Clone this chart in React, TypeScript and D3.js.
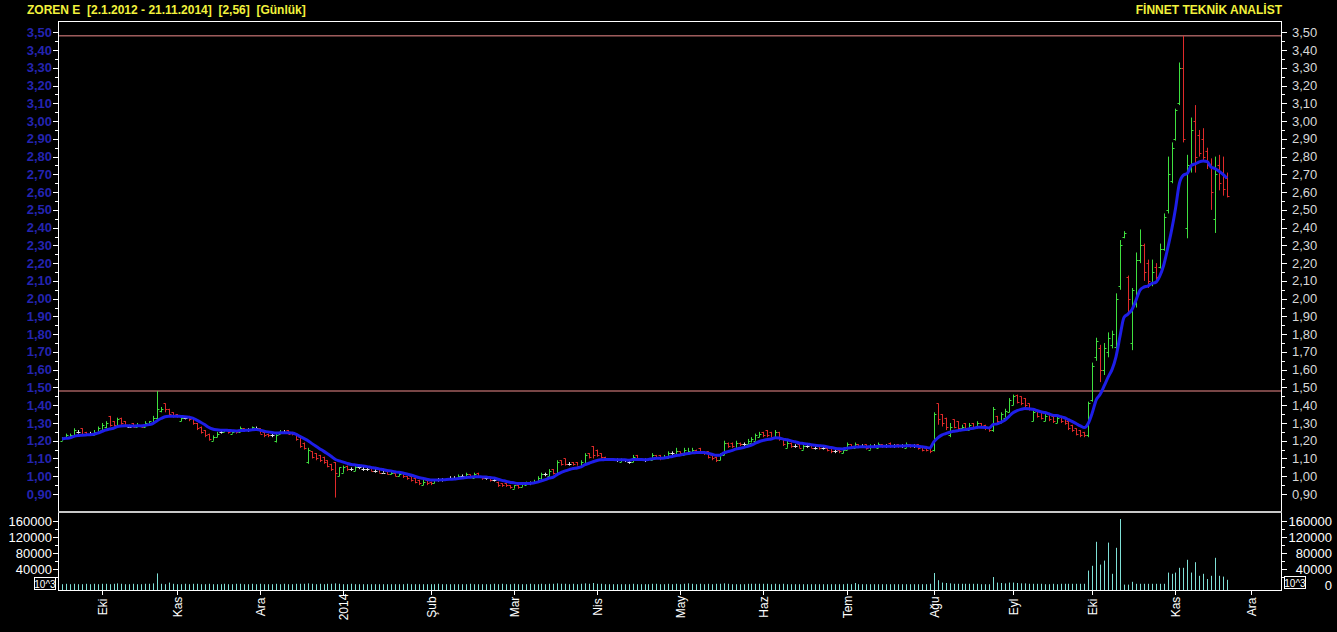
import React from 'react';
import * as d3 from 'd3';

const TITLE = 'ZOREN E  [2.1.2012 - 21.11.2014]  [2,56]  [Günlük]';
const BRAND = 'FİNNET TEKNİK ANALİST';

const OPEN = [
  1.20,1.22,1.22,1.23,1.25,1.27,1.25,1.24,1.23,1.25,
  1.26,1.28,1.34,1.31,1.28,1.33,1.31,1.28,1.30,1.28,
  1.29,1.28,1.29,1.30,1.33,1.37,1.41,1.38,1.36,1.35,
  1.31,1.33,1.34,1.33,1.30,1.28,1.26,1.24,1.20,1.22,
  1.25,1.25,1.26,1.24,1.26,1.25,1.27,1.26,1.26,1.27,
  1.27,1.25,1.24,1.23,1.20,1.24,1.25,1.26,1.25,1.24,
  1.22,1.19,1.08,1.14,1.13,1.12,1.11,1.09,1.07,1.08,
  1.00,1.02,1.06,1.04,1.03,1.05,1.04,1.04,1.05,1.03,
  1.04,1.02,1.03,1.01,1.02,1.00,1.02,1.00,1.00,0.99,
  0.98,0.95,0.98,0.97,0.96,0.98,0.98,0.98,0.99,0.99,
  0.99,1.00,0.99,1.01,0.99,1.02,1.00,0.99,0.99,0.98,
  0.97,0.96,0.96,0.95,0.93,0.95,0.94,0.95,0.96,0.96,
  0.97,0.98,1.01,1.00,1.04,1.01,1.09,1.10,1.07,1.08,
  1.08,1.05,1.07,1.13,1.17,1.15,1.13,1.11,1.10,1.10,
  1.09,1.08,1.09,1.08,1.08,1.12,1.10,1.09,1.09,1.09,
  1.12,1.12,1.10,1.10,1.13,1.12,1.14,1.12,1.13,1.13,
  1.15,1.16,1.14,1.14,1.12,1.11,1.09,1.12,1.19,1.19,
  1.16,1.19,1.18,1.18,1.19,1.20,1.22,1.25,1.26,1.25,
  1.22,1.25,1.21,1.16,1.19,1.17,1.18,1.15,1.17,1.18,
  1.16,1.17,1.16,1.16,1.16,1.14,1.15,1.13,1.15,1.18,
  1.16,1.18,1.17,1.18,1.15,1.17,1.16,1.18,1.17,1.19,
  1.17,1.18,1.17,1.16,1.18,1.17,1.18,1.17,1.16,1.16,
  1.15,1.41,1.35,1.33,1.23,1.32,1.31,1.27,1.30,1.26,
  1.30,1.27,1.30,1.29,1.27,1.26,1.34,1.30,1.33,1.36,
  1.40,1.46,1.45,1.44,1.41,1.31,1.37,1.36,1.31,1.35,
  1.34,1.30,1.34,1.33,1.31,1.29,1.27,1.26,1.25,1.23,
  1.43,1.67,1.72,1.60,1.70,1.74,1.73,2.07,2.35,2.12,
  1.75,1.97,2.22,2.30,2.20,2.08,2.18,2.18,2.28,2.50,
  2.66,2.90,3.10,3.30,2.40,2.75,3.00,2.92,2.90,2.83,
  2.75,2.45,2.75,2.70,2.68,
];

const HIGH = [
  1.22,1.24,1.24,1.27,1.26,1.27,1.25,1.25,1.26,1.28,
  1.30,1.31,1.34,1.31,1.33,1.33,1.31,1.29,1.30,1.30,
  1.29,1.31,1.31,1.34,1.48,1.39,1.41,1.38,1.36,1.35,
  1.34,1.33,1.34,1.33,1.30,1.28,1.26,1.24,1.23,1.25,
  1.26,1.26,1.26,1.26,1.26,1.28,1.27,1.27,1.28,1.28,
  1.27,1.25,1.24,1.24,1.24,1.26,1.26,1.26,1.25,1.24,
  1.22,1.19,1.16,1.14,1.13,1.12,1.11,1.09,1.07,1.08,
  1.05,1.06,1.06,1.05,1.06,1.05,1.06,1.05,1.05,1.04,
  1.04,1.03,1.03,1.03,1.02,1.02,1.02,1.00,1.00,0.99,
  0.98,0.98,0.98,0.97,0.98,0.99,0.99,0.99,1.00,1.00,
  1.01,1.01,1.02,1.01,1.02,1.02,1.00,1.00,0.99,0.99,
  0.97,0.96,0.96,0.95,0.95,0.95,0.96,0.97,0.97,0.98,
  1.00,1.02,1.02,1.04,1.04,1.09,1.09,1.10,1.08,1.08,
  1.08,1.09,1.13,1.13,1.17,1.15,1.13,1.11,1.10,1.10,
  1.10,1.10,1.09,1.09,1.12,1.12,1.10,1.10,1.10,1.13,
  1.12,1.12,1.12,1.14,1.14,1.16,1.14,1.16,1.16,1.16,
  1.15,1.16,1.14,1.14,1.12,1.11,1.13,1.20,1.19,1.19,
  1.20,1.19,1.19,1.21,1.22,1.24,1.25,1.25,1.26,1.25,
  1.26,1.25,1.21,1.20,1.19,1.18,1.18,1.18,1.18,1.18,
  1.17,1.17,1.17,1.16,1.16,1.15,1.15,1.16,1.19,1.18,
  1.19,1.18,1.18,1.18,1.18,1.18,1.19,1.18,1.18,1.19,
  1.18,1.18,1.18,1.19,1.18,1.18,1.18,1.17,1.16,1.16,
  1.36,1.41,1.35,1.33,1.30,1.32,1.31,1.29,1.30,1.30,
  1.30,1.31,1.30,1.29,1.27,1.39,1.34,1.36,1.38,1.44,
  1.46,1.46,1.45,1.44,1.41,1.37,1.37,1.36,1.35,1.35,
  1.34,1.34,1.34,1.33,1.31,1.29,1.27,1.26,1.25,1.42,
  1.64,1.78,1.74,1.75,1.81,1.82,2.03,2.33,2.38,2.13,
  2.06,2.26,2.39,2.31,2.22,2.22,2.20,2.31,2.48,2.80,
  2.88,3.07,3.33,3.48,2.81,3.02,3.09,2.95,2.96,2.85,
  2.79,2.80,2.81,2.80,2.71,
];

const LOW = [
  1.20,1.22,1.22,1.23,1.24,1.23,1.23,1.23,1.23,1.25,
  1.25,1.27,1.28,1.28,1.28,1.29,1.29,1.28,1.28,1.28,
  1.28,1.28,1.29,1.30,1.32,1.36,1.36,1.34,1.33,1.33,
  1.31,1.32,1.31,1.29,1.26,1.24,1.22,1.20,1.20,1.22,
  1.24,1.25,1.24,1.24,1.24,1.25,1.25,1.25,1.26,1.26,
  1.24,1.22,1.22,1.22,1.19,1.24,1.24,1.24,1.23,1.20,
  1.16,1.15,1.07,1.10,1.09,1.08,1.07,1.05,1.03,0.88,
  1.00,1.02,1.03,1.03,1.03,1.04,1.03,1.03,1.03,1.02,
  1.02,1.02,1.01,1.01,1.00,1.00,0.99,0.98,0.97,0.96,
  0.95,0.95,0.95,0.95,0.96,0.97,0.97,0.98,0.98,0.98,
  0.99,0.99,0.99,1.00,0.99,0.99,0.98,0.98,0.97,0.97,
  0.94,0.94,0.94,0.93,0.93,0.93,0.94,0.95,0.95,0.96,
  0.97,0.98,1.00,1.00,1.01,1.01,1.06,1.06,1.06,1.06,
  1.06,1.05,1.07,1.10,1.10,1.11,1.10,1.09,1.09,1.09,
  1.08,1.08,1.08,1.07,1.08,1.09,1.09,1.08,1.09,1.09,
  1.10,1.09,1.10,1.10,1.12,1.12,1.12,1.12,1.13,1.13,
  1.13,1.13,1.12,1.10,1.09,1.08,1.09,1.12,1.16,1.16,
  1.16,1.17,1.17,1.18,1.19,1.20,1.22,1.22,1.22,1.22,
  1.22,1.20,1.17,1.16,1.16,1.16,1.16,1.15,1.16,1.16,
  1.15,1.15,1.15,1.14,1.13,1.13,1.13,1.13,1.15,1.16,
  1.16,1.16,1.16,1.15,1.15,1.16,1.16,1.16,1.16,1.16,
  1.16,1.16,1.16,1.16,1.16,1.16,1.15,1.14,1.14,1.13,
  1.14,1.29,1.28,1.26,1.22,1.27,1.26,1.26,1.26,1.26,
  1.27,1.27,1.27,1.26,1.25,1.25,1.30,1.30,1.33,1.36,
  1.40,1.41,1.40,1.39,1.37,1.31,1.33,1.32,1.31,1.31,
  1.30,1.30,1.30,1.29,1.26,1.25,1.23,1.22,1.22,1.22,
  1.42,1.65,1.53,1.57,1.67,1.72,1.71,2.05,2.34,1.92,
  1.71,1.95,2.20,2.10,2.06,2.07,2.10,2.17,2.27,2.48,
  2.65,2.89,3.09,2.88,2.34,2.71,2.71,2.80,2.77,2.73,
  2.50,2.37,2.61,2.58,2.57,
];

const CLOSE = [
  1.21,1.23,1.23,1.26,1.25,1.24,1.24,1.24,1.25,1.27,
  1.29,1.30,1.29,1.29,1.32,1.30,1.29,1.28,1.28,1.29,
  1.28,1.30,1.31,1.33,1.38,1.38,1.38,1.35,1.34,1.34,
  1.33,1.33,1.32,1.30,1.27,1.25,1.23,1.21,1.22,1.24,
  1.25,1.26,1.25,1.25,1.25,1.27,1.26,1.26,1.28,1.27,
  1.24,1.23,1.23,1.23,1.23,1.25,1.25,1.24,1.24,1.21,
  1.17,1.16,1.15,1.11,1.10,1.09,1.08,1.06,1.04,1.02,
  1.05,1.05,1.04,1.04,1.05,1.05,1.04,1.04,1.03,1.03,
  1.02,1.02,1.01,1.02,1.00,1.01,1.00,0.99,0.98,0.97,
  0.96,0.97,0.96,0.96,0.98,0.98,0.98,0.99,0.99,0.99,
  1.00,1.00,1.01,1.00,1.01,1.00,0.99,0.99,0.98,0.98,
  0.95,0.95,0.95,0.94,0.95,0.94,0.96,0.96,0.96,0.97,
  0.99,1.01,1.01,1.03,1.02,1.08,1.07,1.07,1.07,1.07,
  1.06,1.08,1.12,1.11,1.12,1.12,1.11,1.10,1.10,1.09,
  1.09,1.09,1.09,1.08,1.11,1.10,1.09,1.09,1.10,1.12,
  1.11,1.10,1.11,1.13,1.13,1.14,1.13,1.15,1.14,1.15,
  1.14,1.14,1.13,1.11,1.10,1.09,1.12,1.19,1.17,1.17,
  1.19,1.18,1.18,1.20,1.21,1.23,1.24,1.23,1.23,1.22,
  1.25,1.21,1.18,1.19,1.17,1.17,1.16,1.17,1.17,1.16,
  1.16,1.16,1.16,1.15,1.14,1.14,1.14,1.15,1.18,1.17,
  1.18,1.17,1.17,1.16,1.17,1.17,1.18,1.17,1.17,1.17,
  1.17,1.17,1.17,1.18,1.17,1.17,1.16,1.15,1.15,1.14,
  1.35,1.32,1.30,1.28,1.28,1.28,1.27,1.28,1.27,1.29,
  1.28,1.30,1.28,1.27,1.26,1.38,1.31,1.35,1.37,1.43,
  1.45,1.42,1.41,1.40,1.38,1.36,1.34,1.33,1.34,1.32,
  1.31,1.33,1.31,1.30,1.27,1.26,1.24,1.23,1.23,1.41,
  1.62,1.76,1.60,1.72,1.78,1.80,2.00,2.30,2.37,2.00,
  2.05,2.22,2.30,2.15,2.10,2.15,2.12,2.28,2.46,2.70,
  2.85,3.06,3.30,2.90,2.75,2.95,2.80,2.82,2.80,2.75,
  2.60,2.70,2.65,2.62,2.58,
];

// volume, in thousands (10^3)
const VOLUME_K = [
  2,3,2,3,2,2,3,2,3,2,
  3,3,2,3,4,3,2,2,3,2,
  2,3,3,4,29,3,2,6,3,2,
  2,3,2,3,3,2,2,3,2,2,
  2,3,2,2,3,3,2,2,3,2,
  3,2,2,2,3,2,3,2,2,3,
  3,3,4,3,2,3,2,3,3,4,
  3,2,2,3,2,2,2,2,2,2,
  2,2,2,2,2,2,2,3,2,2,
  2,2,2,2,2,3,2,2,2,2,
  2,2,2,3,2,2,2,2,2,3,
  2,3,2,2,3,2,2,2,3,2,
  2,3,2,3,3,4,3,3,2,3,
  2,3,4,3,5,3,3,2,2,2,
  2,2,2,2,3,2,2,2,2,3,
  3,2,2,3,2,3,2,3,4,3,
  2,3,2,3,2,3,3,4,3,2,
  2,2,2,3,3,3,3,3,3,2,
  3,2,3,2,2,2,2,2,2,2,
  2,2,2,2,2,2,2,2,3,2,
  5,2,2,2,2,2,2,2,2,2,
  2,2,2,2,2,2,2,2,2,3,
  30,12,6,5,4,3,3,3,3,3,
  3,3,2,2,2,20,6,5,4,6,
  6,5,4,4,3,3,3,3,2,2,
  3,2,3,3,3,3,3,3,3,36,
  48,108,51,61,106,28,93,165,1,1,
  8,3,3,3,3,3,3,3,3,31,
  28,31,43,43,63,31,57,23,28,15,
  23,68,23,21,13,
];

const MONTH_LABELS = ['Eki', 'Kas', 'Ara', '2014', 'Şub', 'Mar', 'Nis', 'May', 'Haz', 'Tem', 'Ağu', 'Eyl', 'Eki', 'Kas', 'Ara'];
const MONTH_BAR_INDEX = [10, 29, 50, 71, 93, 114, 135, 156, 177, 198, 220, 240, 260, 281, 300];

const PRICE_TICKS = [0.9, 1.0, 1.1, 1.2, 1.3, 1.4, 1.5, 1.6, 1.7, 1.8, 1.9, 2.0, 2.1, 2.2, 2.3, 2.4, 2.5, 2.6, 2.7, 2.8, 2.9, 3.0, 3.1, 3.2, 3.3, 3.4, 3.5];
const LEVEL_LINES = [3.48, 1.48];
const VOL_TICKS = [0, 40000, 80000, 120000, 160000];
const EMA_PERIOD = 10;

const FONT = "'Liberation Sans', Arial, sans-serif";

function ema(values: number[], period: number): number[] {
  const k = 2 / (period + 1);
  const out: number[] = [];
  values.forEach((v, i) => {
    out.push(i === 0 ? v : out[i - 1] + k * (v - out[i - 1]));
  });
  return out;
}

export default function App() {
  const W = 1337, H = 632;
  const L = 58, R = 1282, T = 21, SEP = 512, B = 590;
  const n = CLOSE.length;

  const x = d3.scaleLinear().domain([0, n - 1]).range([62, 1227]);
  const y = d3.scaleLinear().domain([0.9, 3.5]).range([494, 32.3]);
  const yv = d3.scaleLinear().domain([0, 160000]).range([585, 521]);

  const ma = ema(CLOSE, EMA_PERIOD);
  const maLine = d3.line<number>().x((_, i) => x(i)).y(d => y(d)).curve(d3.curveMonotoneX);

  const fmt = (v: number) => d3.format('.2f')(v).replace('.', ',');
  const minor = d3.range(0.95, 3.5, 0.1);
  const volMinor = [20000, 60000, 100000, 140000];

  const barColor = (i: number) =>
    CLOSE[i] > OPEN[i] ? '#3fe03f' : CLOSE[i] < OPEN[i] ? '#e02a2a' : '#e8e8e8';

  return (
    <div style={{ position: 'fixed', left: 0, top: 0, width: W, height: H, background: '#000' }}>
      <svg width={W} height={H} style={{ display: 'block', background: '#000', fontFamily: FONT }}>
        <text x={27} y={14} fill="#f2f23c" fontSize={12} fontWeight="bold" style={{ whiteSpace: 'pre' }}>{TITLE}</text>
        <text x={R} y={14} fill="#f2f23c" fontSize={12} fontWeight="bold" textAnchor="end">{BRAND}</text>

        <defs>
          <clipPath id="priceClip"><rect x={L} y={T} width={R - L} height={SEP - T} /></clipPath>
        </defs>

        {LEVEL_LINES.map((v, k) => (
          <line key={'lv' + k} x1={L} x2={R} y1={y(v)} y2={y(v)} stroke="#f08c8c" strokeWidth={1} />
        ))}

        <g clipPath="url(#priceClip)">
          {CLOSE.map((c, i) => {
            const xi = Math.round(x(i)) + 0.5;
            const col = barColor(i);
            return (
              <g key={'b' + i} stroke={col} strokeWidth={1}>
                <line x1={xi} x2={xi} y1={y(HIGH[i])} y2={y(LOW[i])} />
                <line x1={xi - 2} x2={xi} y1={Math.round(y(OPEN[i])) + 0.5} y2={Math.round(y(OPEN[i])) + 0.5} />
                <line x1={xi} x2={xi + 2} y1={Math.round(y(c)) + 0.5} y2={Math.round(y(c)) + 0.5} />
              </g>
            );
          })}
          <path d={maLine(ma) || ''} fill="none" stroke="#1e1ee8" strokeWidth={3} strokeLinejoin="round" />
        </g>

        {VOLUME_K.map((v, i) => {
          const xi = Math.round(x(i)) + 0.5;
          return <line key={'v' + i} x1={xi} x2={xi} y1={B} y2={yv(v * 1000)} stroke="#7fe0d6" strokeWidth={1} />;
        })}

        <rect x={L + 0.5} y={T + 0.5} width={R - L - 1} height={B - T} fill="none" stroke="#ffffff" strokeWidth={1} />
        <line x1={L} x2={R} y1={SEP} y2={SEP} stroke="#c8c8c8" strokeWidth={2} />

        {PRICE_TICKS.map((v, k) => (
          <g key={'pt' + k}>
            <line x1={L - 5} x2={L} y1={Math.round(y(v)) + 0.5} y2={Math.round(y(v)) + 0.5} stroke="#ffffff" />
            <line x1={R} x2={R + 5} y1={Math.round(y(v)) + 0.5} y2={Math.round(y(v)) + 0.5} stroke="#ffffff" />
            <text x={L - 6} y={y(v)} dy="0.35em" textAnchor="end" fill="#2424b0" fontSize={13} fontWeight="bold">{fmt(v)}</text>
            <text x={R + 10} y={y(v)} dy="0.35em" textAnchor="start" fill="#d8d8d8" fontSize={13}>{fmt(v)}</text>
          </g>
        ))}
        {minor.map((v, k) => (
          <g key={'pm' + k}>
            <line x1={L - 3} x2={L} y1={Math.round(y(v)) + 0.5} y2={Math.round(y(v)) + 0.5} stroke="#ffffff" />
            <line x1={R} x2={R + 3} y1={Math.round(y(v)) + 0.5} y2={Math.round(y(v)) + 0.5} stroke="#ffffff" />
          </g>
        ))}

        {VOL_TICKS.map((v, k) => (
          <g key={'vt' + k}>
            {v > 0 && <line x1={L - 5} x2={L} y1={Math.round(yv(v)) + 0.5} y2={Math.round(yv(v)) + 0.5} stroke="#ffffff" />}
            {v > 0 && <line x1={R} x2={R + 5} y1={Math.round(yv(v)) + 0.5} y2={Math.round(yv(v)) + 0.5} stroke="#ffffff" />}
            {v > 0 && <text x={L - 6} y={yv(v)} dy="0.35em" textAnchor="end" fill="#ffffff" fontSize={13}>{v}</text>}
            <text x={R + 50} y={yv(v)} dy="0.35em" textAnchor="end" fill="#ffffff" fontSize={13}>{v}</text>
          </g>
        ))}
        {volMinor.map((v, k) => (
          <g key={'vm' + k}>
            <line x1={L - 3} x2={L} y1={Math.round(yv(v)) + 0.5} y2={Math.round(yv(v)) + 0.5} stroke="#ffffff" />
            <line x1={R} x2={R + 3} y1={Math.round(yv(v)) + 0.5} y2={Math.round(yv(v)) + 0.5} stroke="#ffffff" />
          </g>
        ))}
        <rect x={34.5} y={577.5} width={21} height={12} fill="#000" stroke="#ffffff" strokeWidth={1} />
        <text x={45} y={584} dy="0.35em" textAnchor="middle" fill="#ffffff" fontSize={10}>10^3</text>
        <rect x={1284.5} y={576.5} width={21} height={12} fill="#000" stroke="#ffffff" strokeWidth={1} />
        <text x={1295} y={583} dy="0.35em" textAnchor="middle" fill="#ffffff" fontSize={10}>10^3</text>

        {MONTH_LABELS.map((m, k) => {
          const xm = Math.round(x(MONTH_BAR_INDEX[k])) + 0.5;
          return (
            <g key={'m' + k}>
              <line x1={xm} x2={xm} y1={B} y2={B + 5} stroke="#ffffff" />
              <text transform={`translate(${xm + 4},607) rotate(-90)`} textAnchor="middle" fill="#ffffff" fontSize={12}>{m}</text>
            </g>
          );
        })}
      </svg>
    </div>
  );
}
